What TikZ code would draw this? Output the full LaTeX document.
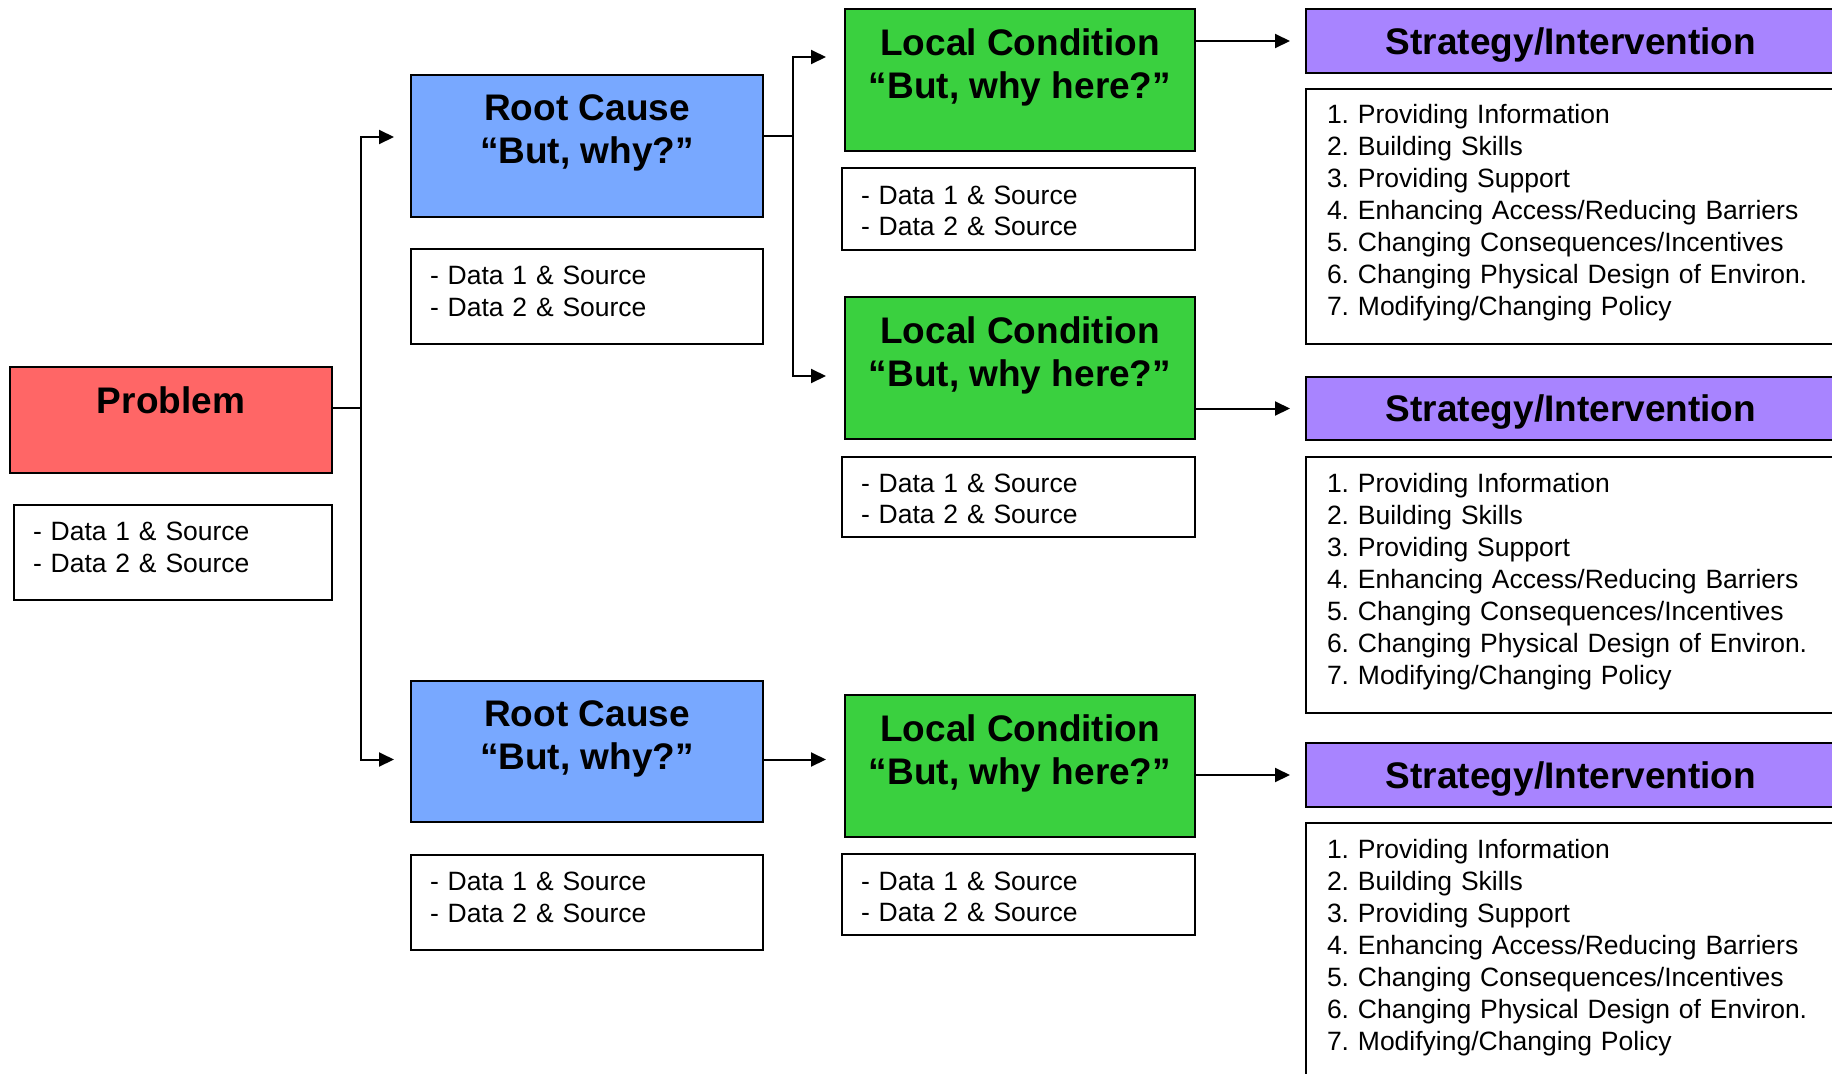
\documentclass[tikz,border=0pt]{standalone}
\usepackage{fontspec}
\setmainfont{Liberation Sans}
\usetikzlibrary{arrows.meta}
\definecolor{probred}{HTML}{FF6666}
\definecolor{rcblue}{HTML}{78A8FF}
\definecolor{lcgreen}{HTML}{3AD03F}
\definecolor{stpurple}{HTML}{A884FF}
\frenchspacing
\begin{document}
\frenchspacing
\begin{tikzpicture}[x=1pt,y=-1pt,
  box/.style={draw=black, line width=2pt, rectangle, inner sep=0pt, anchor=north west},
  ttl/.style={font=\fontsize{37}{43}\selectfont\bfseries, align=center, inner sep=0pt, anchor=north},
  dbox/.style={box, fill=white, font=\fontsize{26.5}{31.7}\selectfont\frenchspacing, align=left, inner xsep=19pt, inner ysep=0pt},
  lbox/.style={box, fill=white, font=\fontsize{26.5}{32}\selectfont\frenchspacing, align=left, inner xsep=21pt, inner ysep=0pt, text depth=205pt},
  sbox/.style={box, fill=stpurple, font=\fontsize{37}{43}\selectfont\bfseries, text depth=0pt},
  conn/.style={draw=black, line width=2pt},
  arr/.style={conn, -{Triangle[length=15pt,width=14pt]}}
]
\useasboundingbox (0,0) rectangle (1832,1074);
\clip (0,0) rectangle (1832,1074);

% Problem
\node[box, fill=probred, minimum width=322pt, minimum height=106pt] (prob) at (9,366) {};
\node[ttl] (probt) at ([yshift=-20pt]prob.north) {Problem};
\node[dbox, minimum width=318pt, minimum height=95pt, text width=280pt, text depth=42pt] (probd) at (13,504) {- Data 1 \& Source\\- Data 2 \& Source};

% Root causes
\node[box, fill=rcblue, minimum width=352pt, minimum height=142pt] (rc1) at (410,74) {};
\node[ttl] (rc1t) at ([yshift=-20pt]rc1.north) {Root Cause\\“But, why?”};
\node[dbox, minimum width=352pt, minimum height=95pt, text width=314pt, text depth=42pt] (rc1d) at (410,248) {- Data 1 \& Source\\- Data 2 \& Source};

\node[box, fill=rcblue, minimum width=352pt, minimum height=141pt] (rc2) at (410,680) {};
\node[ttl] (rc2t) at ([yshift=-20pt]rc2.north) {Root Cause\\“But, why?”};
\node[dbox, minimum width=352pt, minimum height=95pt, text width=314pt, text depth=42pt] (rc2d) at (410,854) {- Data 1 \& Source\\- Data 2 \& Source};

% Local conditions
\node[box, fill=lcgreen, minimum width=350pt, minimum height=142pt] (lc1) at (844,8) {};
\node[ttl] (lc1t) at ([yshift=-20pt]lc1.north) {Local Condition\\“But, why here?”};
\node[dbox, minimum width=353pt, minimum height=82pt, text width=315pt, text depth=28pt] (lc1d) at (841,167) {- Data 1 \& Source\\- Data 2 \& Source};

\node[box, fill=lcgreen, minimum width=350pt, minimum height=142pt] (lc2) at (844,296) {};
\node[ttl] (lc2t) at ([yshift=-20pt]lc2.north) {Local Condition\\“But, why here?”};
\node[dbox, minimum width=353pt, minimum height=80pt, text width=315pt, text depth=28pt] (lc2d) at (841,456) {- Data 1 \& Source\\- Data 2 \& Source};

\node[box, fill=lcgreen, minimum width=350pt, minimum height=142pt] (lc3) at (844,694) {};
\node[ttl] (lc3t) at ([yshift=-20pt]lc3.north) {Local Condition\\“But, why here?”};
\node[dbox, minimum width=353pt, minimum height=81pt, text width=315pt, text depth=27pt] (lc3d) at (841,853) {- Data 1 \& Source\\- Data 2 \& Source};

% Strategies
\node[sbox, minimum width=530pt, minimum height=64pt] (s1) at (1305,8) {Strategy/Intervention};
\node[lbox, minimum width=530pt, minimum height=255pt, text width=488pt] (s1l) at (1305,88) {1. Providing Information\\2. Building Skills\\3. Providing Support\\4. Enhancing Access/Reducing Barriers\\5. Changing Consequences/Incentives\\6. Changing Physical Design of Environ.\\7. Modifying/Changing Policy};

\node[sbox, minimum width=530pt, minimum height=63pt] (s2) at (1305,376) {Strategy/Intervention};
\node[lbox, minimum width=530pt, minimum height=256pt, text width=488pt] (s2l) at (1305,456) {1. Providing Information\\2. Building Skills\\3. Providing Support\\4. Enhancing Access/Reducing Barriers\\5. Changing Consequences/Incentives\\6. Changing Physical Design of Environ.\\7. Modifying/Changing Policy};

\node[sbox, minimum width=530pt, minimum height=64pt] (s3) at (1305,742) {Strategy/Intervention};
\node[lbox, minimum width=530pt, minimum height=256pt, text width=488pt] (s3l) at (1305,822) {1. Providing Information\\2. Building Skills\\3. Providing Support\\4. Enhancing Access/Reducing Barriers\\5. Changing Consequences/Incentives\\6. Changing Physical Design of Environ.\\7. Modifying/Changing Policy};

% Connectors
\coordinate (t0) at (361,408);
\draw[conn] (prob.east |- t0) -- (t0);
\draw[arr, shorten >=16pt] (t0) |- ([yshift=9pt]rc1.west);
\draw[arr, shorten >=16pt] (t0) |- ([yshift=-8pt]rc2.west);

\coordinate (t1) at (793,136);
\draw[conn] (rc1.east |- t1) -- (t1);
\draw[arr, shorten >=18pt] (t1) |- ([yshift=23pt]lc1.west);
\draw[arr, shorten >=18pt] (t1) |- ([yshift=-8pt]lc2.west);
\draw[arr, shorten >=18pt] ([yshift=-8pt]rc2.east) -- ([yshift=-8pt]rc2.east -| lc3.west);

\draw[arr, shorten >=15pt] (lc1.east |- s1.west) -- (s1.west);
\draw[arr, shorten >=15pt] (lc2.east |- s2.west) -- (s2.west);
\draw[arr, shorten >=15pt] (lc3.east |- s3.west) -- (s3.west);
\end{tikzpicture}
\end{document}
